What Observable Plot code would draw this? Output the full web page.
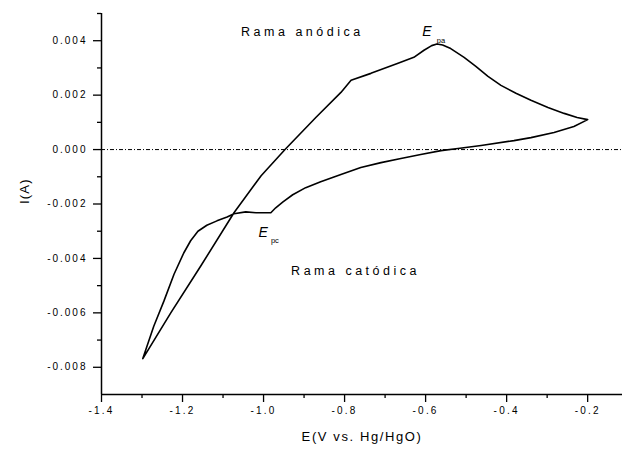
<!DOCTYPE html>
<html>
<head>
<meta charset="utf-8">
<script src="https://cdn.jsdelivr.net/npm/d3@7"></script>
<script src="https://cdn.jsdelivr.net/npm/@observablehq/plot@0.6"></script>
<style>
  html, body { margin: 0; padding: 0; background: #fff; }
  svg { font-family: "Liberation Sans", Arial, sans-serif; }
</style>
</head>
<body>
<div id="chart"></div>
<script>
// Anodic sweep (forward, -1.3 V -> -0.2 V)
const E_fwd = [-1.298, -1.229, -1.155, -1.073, -1.006, -0.947, -0.871, -0.809, -0.784, -0.735, -0.668, -0.629, -0.604, -0.585, -0.572, -0.558, -0.538, -0.505, -0.476, -0.446, -0.414, -0.377, -0.340, -0.298, -0.258, -0.226, -0.200];
const I_fwd = [-0.00768, -0.00600, -0.00428, -0.00232, -0.00096, 0.00000, 0.00118, 0.00210, 0.00255, 0.00280, 0.00317, 0.00339, 0.00365, 0.00382, 0.00388, 0.00384, 0.00371, 0.00339, 0.00306, 0.00269, 0.00236, 0.00207, 0.00181, 0.00155, 0.00133, 0.00118, 0.00110];
// Cathodic sweep (reverse, -0.2 V -> -1.3 V)
const E_rev = [-0.200, -0.234, -0.283, -0.340, -0.382, -0.463, -0.520, -0.562, -0.612, -0.661, -0.710, -0.760, -0.809, -0.859, -0.896, -0.928, -0.952, -0.970, -0.982, -1.019, -1.044, -1.073, -1.090, -1.115, -1.140, -1.162, -1.180, -1.197, -1.221, -1.246, -1.271, -1.298];
const I_rev = [0.00110, 0.00085, 0.00063, 0.00044, 0.00033, 0.00015, 0.00004, -0.00004, -0.00018, -0.00033, -0.00048, -0.00066, -0.00092, -0.00118, -0.00140, -0.00166, -0.00192, -0.00214, -0.00232, -0.00232, -0.00229, -0.00236, -0.00248, -0.00262, -0.00278, -0.00300, -0.00335, -0.00380, -0.00458, -0.00557, -0.00649, -0.00768];

const xTicks = [-1.4, -1.2, -1.0, -0.8, -0.6, -0.4, -0.2];
const xMinorTicks = [-1.3, -1.1, -0.9, -0.7, -0.5, -0.3];
const yTicks = [-0.008, -0.006, -0.004, -0.002, 0.000, 0.002, 0.004];
const yMinorTicks = [-0.007, -0.005, -0.003, -0.001, 0.001, 0.003, 0.005];

const xLabel = "E(V vs. Hg/HgO)";
const yLabel = "I(A)";

const branchLabels = [
  {text: "Rama anódica", E: -1.0555, I: 0.00432},
  {text: "Rama catódica", E: -0.932, I: -0.00446}
];
const peakE = [
  {text: "E", E: -0.597, I: 0.00432},
  {text: "E", E: -1.001, I: -0.00306}
];
const peakSub = [
  {text: "pa", E: -0.562, I: 0.00402},
  {text: "pc", E: -0.972, I: -0.00336}
];

const curve = [
  ...E_fwd.map((E, i) => ({E, I: I_fwd[i]})),
  ...E_rev.map((E, i) => ({E, I: I_rev[i]}))
];

const chart = Plot.plot({
  width: 623,
  height: 453,
  marginLeft: 101,
  marginRight: 1,
  marginTop: 13,
  marginBottom: 59,
  style: {fontFamily: "Liberation Sans, Arial, sans-serif", background: "#fff", color: "#000"},
  x: {domain: [-1.4, -0.114]},
  y: {domain: [-0.009, 0.005]},
  marks: [
    Plot.ruleY([0], {stroke: "#000", strokeWidth: 1, strokeDasharray: "4,2,1,2"}),
    Plot.line(curve, {x: "E", y: "I", stroke: "#000", strokeWidth: 1.6}),
    Plot.ruleX([-1.4], {stroke: "#000", strokeWidth: 1.5}),
    Plot.ruleY([-0.009], {stroke: "#000", strokeWidth: 1.5}),
    Plot.axisX({ticks: xTicks, tickSize: 8, tickPadding: 4, tickFormat: d => d.toFixed(1), fontSize: 10, label: null, strokeWidth: 1.3}),
    Plot.axisX({ticks: xMinorTicks, tickSize: 4, tickFormat: () => "", label: null, strokeWidth: 1.3}),
    Plot.axisY({ticks: yTicks, tickSize: 8, tickPadding: 6, tickFormat: d => d.toFixed(3), fontSize: 10, label: null, strokeWidth: 1.3}),
    Plot.axisY({ticks: yMinorTicks, tickSize: 4, tickFormat: () => "", label: null, strokeWidth: 1.3}),
    Plot.text([xLabel], {frameAnchor: "bottom", dy: 46, fontSize: 13, fill: "#000"}),
    Plot.text([yLabel], {frameAnchor: "left", dx: -77, rotate: -90, fontSize: 13, fill: "#000"}),
    Plot.text(branchLabels, {x: "E", y: "I", text: "text", textAnchor: "start", fontSize: 12.5, fill: "#000"}),
    Plot.text(peakE, {x: "E", y: "I", text: "text", fontSize: 14, fontStyle: "italic", fill: "#000"}),
    Plot.text(peakSub, {x: "E", y: "I", text: "text", fontSize: 7.5, fill: "#000"})
  ]
});

const s = d3.select(chart);
s.selectAll('g[aria-label="x-axis tick label"] text').attr("letter-spacing", 2.2);
s.selectAll('g[aria-label="y-axis tick label"] text').attr("letter-spacing", 2.0);
s.selectAll('g[aria-label="text"] text').each(function() {
  const t = this.textContent;
  if (t.startsWith("Rama")) d3.select(this).attr("letter-spacing", 3.5);
  else if (t === xLabel) d3.select(this).attr("letter-spacing", 1.6);
  else if (t === yLabel) d3.select(this).attr("letter-spacing", 1.2);
});
document.getElementById("chart").appendChild(chart);
</script>
</body>
</html>
